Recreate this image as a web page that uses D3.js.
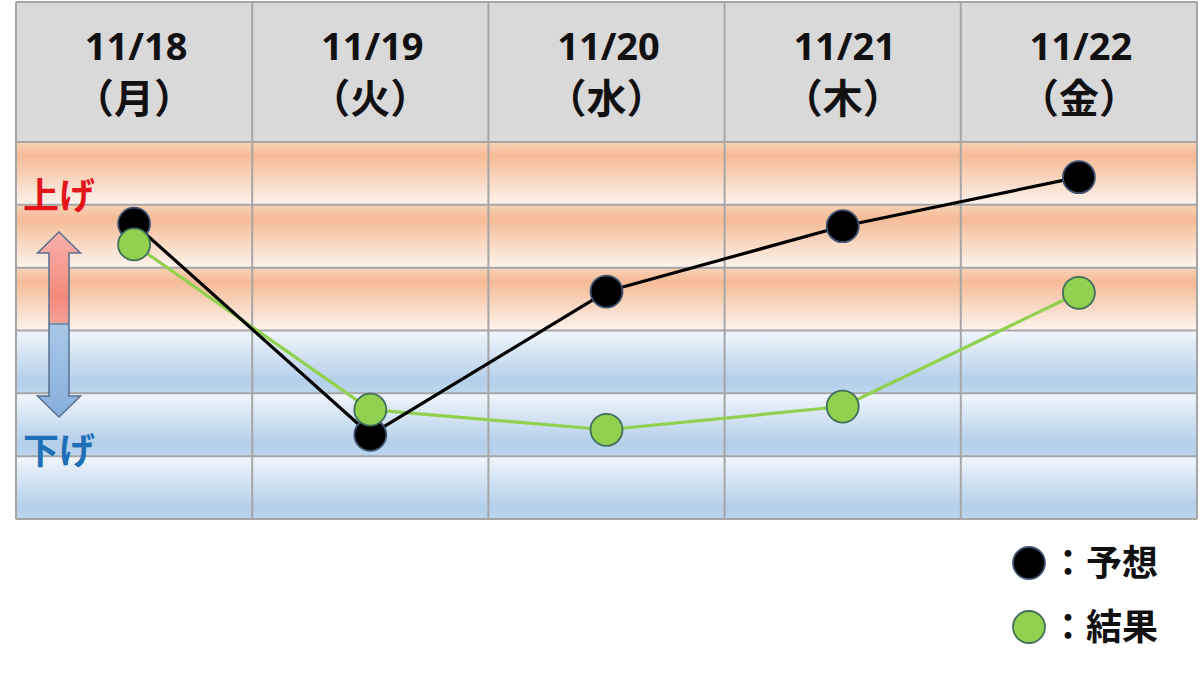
<!DOCTYPE html>
<html><head><meta charset="utf-8">
<script src="https://cdn.jsdelivr.net/npm/d3@7"></script>
<style>html,body{margin:0;padding:0;background:#fff;}svg{display:block;}</style>
</head><body>
<script>
// ---- data ----
const dates = ["11/18","11/19","11/20","11/21","11/22"];
const weekdays = ["（月）","（火）","（水）","（木）","（金）"];
const forecast = [1.70, -1.66, 0.62, 1.66, 2.44];   // 予想
const result   = [1.37, -1.26, -1.58, -1.21, 0.60]; // 結果
const levelTicks = [-3,-2,-1,0,1,2,3];
const legendLabels = ["：予想","：結果"];
const upLabel = "上げ", downLabel = "下げ";

const W = 1200, H = 673;
const svg = d3.select("body").append("svg").attr("width", W).attr("height", H);
const defs = svg.append("defs");

const x = d3.scaleBand().domain(dates).range([16, 1197]).padding(0);
const y = d3.scaleLinear().domain([-3, 3]).range([519, 142]);
const headerTop = 2;

// gradients
const og = defs.append("linearGradient").attr("id","gOrange").attr("x1",0).attr("y1",0).attr("x2",0).attr("y2",1);
[[0,"#f8d2b8"],[0.22,"#f5bb96"],[1,"#fdf4ee"]].forEach(s=>og.append("stop").attr("offset",s[0]).attr("stop-color",s[1]));
const bg = defs.append("linearGradient").attr("id","gBlue").attr("x1",0).attr("y1",0).attr("x2",0).attr("y2",1);
[[0,"#f1f6fc"],[0.8,"#b4cfea"],[1,"#bdd6ee"]].forEach(s=>bg.append("stop").attr("offset",s[0]).attr("stop-color",s[1]));
const ag = defs.append("linearGradient").attr("id","gArrow").attr("x1",0).attr("y1",0).attr("x2",0).attr("y2",1);
[[0,"#f8b0aa"],[0.35,"#f28a7c"],[0.49,"#f4a097"],[0.49,"#a9c8e8"],[1,"#86aedb"]].forEach(s=>ag.append("stop").attr("offset",s[0]).attr("stop-color",s[1]));

// header
svg.append("rect").attr("x",16).attr("y",headerTop).attr("width",1181).attr("height",y(3)-headerTop)
  .attr("fill","#d9d9d9");

// rows
const rows = levelTicks.slice(0,-1).map((v,i)=>({lo:v, hi:levelTicks[i+1]}));
dates.forEach(d=>{
  svg.selectAll(null).data(rows).enter().append("rect")
    .attr("x", x(d)).attr("width", x.bandwidth())
    .attr("y", r=>y(r.hi)).attr("height", r=>y(r.lo)-y(r.hi))
    .attr("fill", r=> r.lo>=0 ? "url(#gOrange)" : "url(#gBlue)");
});

// grid lines
const gridColor = "#a6a6a6";
svg.selectAll(null).data(levelTicks).enter().append("line")
  .attr("x1",16).attr("x2",1197).attr("y1",d=>y(d)).attr("y2",d=>y(d))
  .attr("stroke",gridColor).attr("stroke-width",2);
svg.append("line").attr("x1",16).attr("x2",1197).attr("y1",headerTop).attr("y2",headerTop)
  .attr("stroke",gridColor).attr("stroke-width",2);
const vlines = dates.map(d=>x(d)).concat([x(dates[dates.length-1])+x.bandwidth()]);
svg.selectAll(null).data(vlines).enter().append("line")
  .attr("x1",d=>d).attr("x2",d=>d).attr("y1",headerTop).attr("y2",y(-3))
  .attr("stroke",gridColor).attr("stroke-width",2);

// header text
const cx = d => x(d) + x.bandwidth()/2;
svg.selectAll(null).data(dates).enter().append("text")
  .attr("x", d=>cx(d)+2).attr("y", 60).attr("text-anchor","middle")
  .attr("font-family","'Open Sans', 'Noto Sans CJK JP', sans-serif").attr("font-weight",700)
  .attr("font-size",38).attr("fill","#111").text(d=>d);
svg.selectAll(null).data(weekdays).enter().append("text")
  .attr("x", (d,i)=>cx(dates[i])).attr("y", 113).attr("text-anchor","middle")
  .attr("font-family","'Noto Sans CJK JP', sans-serif").attr("font-weight",700)
  .attr("font-size",40).attr("fill","#111").text(d=>d);

// left labels & arrow
svg.append("text").attr("x",23).attr("y",209).attr("font-family","'Noto Sans CJK JP', sans-serif")
  .attr("font-weight",700).attr("font-size",36).attr("fill","#e3151b").text(upLabel);
svg.append("text").attr("x",23).attr("y",464).attr("font-family","'Noto Sans CJK JP', sans-serif")
  .attr("font-weight",700).attr("font-size",36).attr("fill","#1e6fb6").text(downLabel);

const ax = 59, aTop = 232, aBot = 417, hw = 21.5, bw = 10, hh = 21;
const arrowPts = [[ax,aTop],[ax+hw,aTop+hh],[ax+bw,aTop+hh],[ax+bw,aBot-hh],[ax+hw,aBot-hh],[ax,aBot],
  [ax-hw,aBot-hh],[ax-bw,aBot-hh],[ax-bw,aTop+hh],[ax-hw,aTop+hh]];
svg.append("path").attr("d", d3.line()(arrowPts)+"Z").attr("fill","url(#gArrow)")
  .attr("stroke","#56708f").attr("stroke-width",1.5).attr("stroke-linejoin","miter");
svg.append("line").attr("x1",ax-bw).attr("x2",ax+bw).attr("y1",324).attr("y2",324)
  .attr("stroke","#56708f").attr("stroke-width",1.2);

// series
const series = [
  {name:"予想", vals:forecast, line:"#000000", fill:"#000000", stroke:"#3e5472"},
  {name:"結果", vals:result, line:"#92d050", fill:"#92d050", stroke:"#3f6e5c"}
];
const lineGen = d3.line().x((v,i)=>cx(dates[i])).y(v=>y(v));
[series[1], series[0]].forEach(s=>{
  svg.append("path").attr("d", lineGen(s.vals)).attr("fill","none")
    .attr("stroke", s.line).attr("stroke-width",3.2).attr("stroke-linejoin","round");
});
[series[0], series[1]].forEach(s=>{
  svg.selectAll(null).data(s.vals).enter().append("circle")
    .attr("cx",(v,i)=>cx(dates[i])).attr("cy",v=>y(v)).attr("r",16)
    .attr("fill",s.fill).attr("stroke",s.stroke).attr("stroke-width",1.8);
});

// legend
const legendY = [563, 627];
series.forEach((s,i)=>{
  svg.append("circle").attr("cx",1029).attr("cy",legendY[i]).attr("r",16)
    .attr("fill",s.fill).attr("stroke",s.stroke).attr("stroke-width",1.8);
  svg.append("text").attr("x",1050).attr("y",legendY[i]+13)
    .attr("font-family","'Noto Sans CJK JP', sans-serif").attr("font-weight",700)
    .attr("font-size",36).attr("fill","#111").text(legendLabels[i]);
});
</script>
</body></html>
